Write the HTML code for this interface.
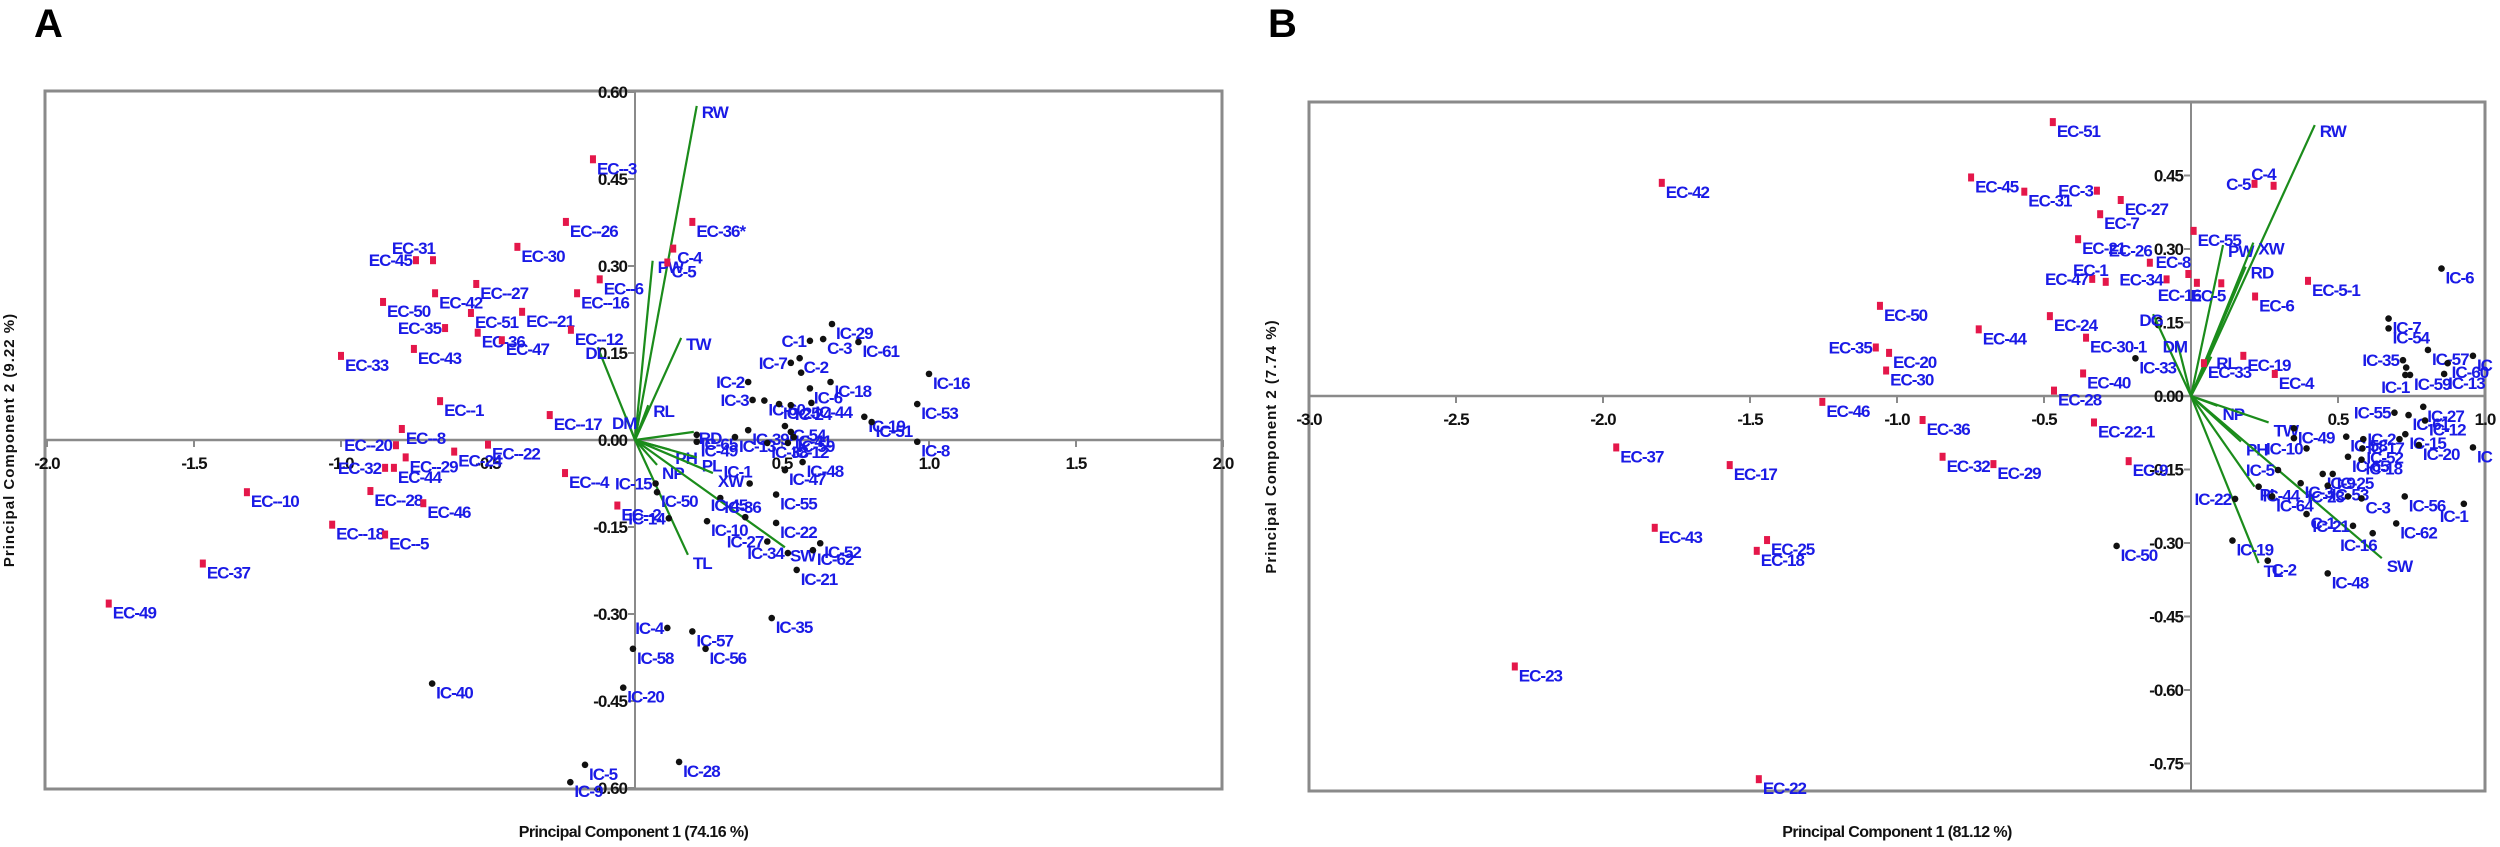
<!DOCTYPE html>
<html><head><meta charset="utf-8">
<style>
html,body{margin:0;padding:0;background:#fff;}
svg{display:block;}
.lbl{font-family:"Liberation Sans Narrow","Liberation Sans",sans-serif;font-weight:bold;font-size:17px;fill:#1a1ae6;letter-spacing:-1px;}
.tick{font-family:"Liberation Sans Narrow","Liberation Sans",sans-serif;font-weight:bold;font-size:17px;fill:#111;letter-spacing:-1px;}
.ttl{font-family:"Liberation Sans Narrow","Liberation Sans",sans-serif;font-weight:bold;font-size:16px;fill:#111;letter-spacing:-0.6px;}
.ytl{font-family:"Liberation Sans",sans-serif;font-weight:bold;font-size:15px;fill:#111;letter-spacing:1px;}
.pl{font-family:"Liberation Sans",sans-serif;font-weight:bold;font-size:40px;fill:#000;}
</style></head>
<body>
<svg id="chart" width="2500" height="847" viewBox="0 0 2500 847" xmlns="http://www.w3.org/2000/svg">
<text class="pl" x="34" y="37">A</text>
<text class="pl" x="1268" y="37">B</text>
</svg>
<script>
// ---------- Panel A data ----------
const aNames=["EC--3","EC--26","EC-30","EC--27","EC-42","EC-50","EC-51","EC--21","EC--16","EC--6","EC--12","EC-35","EC-36","EC-47","EC-43","EC-33","EC-31","EC-45","EC--1","EC--17","EC--8","EC--20","EC--29","EC--22","EC-24","EC-32","EC-44","EC--4","EC--10","EC--28","EC-46","EC--2","EC--18","EC--5","EC-37","EC-49","EC-36*","C-4","C-5",
"IC-29","C-1","C-3","IC-61","IC-7","C-2","","IC-16","IC-18","IC-6","IC-2","IC-3","IC-60","IC-25","IC-24","IC-44","IC-19","IC-51","IC-53","IC-8","IC-54","IC-41","IC-65","IC-49","IC-13","IC-39","IC-38","IC-12","IC-59","IC-48","IC-47","IC-1","IC-15","IC-50","IC-36","IC-55","IC-14","IC-45","IC-10","IC-22","IC-27","IC-52","IC-62","IC-34","IC-21","IC-35","IC-4","IC-57","IC-58","IC-56","IC-40","IC-20","IC-5","IC-28","IC-9"];
const aX=[-0.143,-0.235,-0.40,-0.54,-0.68,-0.857,-0.558,-0.384,-0.197,-0.12,-0.218,-0.646,-0.535,-0.453,-0.752,-1.0,-0.687,-0.745,-0.663,-0.29,-0.793,-0.813,-0.78,-0.50,-0.615,-0.85,-0.82,-0.238,-1.32,-0.90,-0.72,-0.06,-1.03,-0.85,-1.47,-1.79,0.195,0.13,0.11,
0.67,0.595,0.64,0.76,0.53,0.56,0.565,1.0,0.665,0.595,0.385,0.40,0.44,0.49,0.53,0.60,0.78,0.805,0.96,0.96,0.51,0.53,0.21,0.21,0.34,0.385,0.45,0.52,0.54,0.57,0.51,0.39,0.07,0.075,0.29,0.48,0.115,0.375,0.245,0.48,0.45,0.63,0.605,0.52,0.55,0.465,0.11,0.195,-0.007,0.24,-0.69,-0.04,-0.17,0.15,-0.22];
const aY=[0.484,0.376,0.333,0.269,0.253,0.238,0.219,0.221,0.253,0.277,0.19,0.193,0.185,0.172,0.157,0.145,0.31,0.31,0.067,0.043,0.019,-0.009,-0.03,-0.008,-0.02,-0.048,-0.048,-0.057,-0.09,-0.088,-0.109,-0.113,-0.146,-0.163,-0.213,-0.282,0.376,0.33,0.306,
0.20,0.171,0.174,0.169,0.133,0.141,0.116,0.114,0.10,0.089,0.10,0.069,0.068,0.062,0.06,0.064,0.04,0.031,0.062,-0.003,0.024,0.014,0.009,-0.003,0.005,0.017,-0.005,-0.005,0.005,-0.038,-0.052,-0.075,-0.075,-0.09,-0.10,-0.094,-0.135,-0.133,-0.14,-0.143,-0.175,-0.178,-0.19,-0.195,-0.224,-0.307,-0.324,-0.33,-0.36,-0.36,-0.42,-0.427,-0.56,-0.555,-0.59];
const aType="EEEEEEEEEEEEEEEEEEEEEEEEEEEEEEEEEEEEEEEIIIIIIIIIIIIIIIIIIIIIIIIIIIIIIIIIIIIIIIIIIIIIIIIIIIIIIIIII";
const aLeftLabels=["EC-45","EC-35","EC--20","EC-32","IC-7","C-1","IC-2","IC-3","IC-15","IC-4","IC-34","IC-27","IC-14"];
const aAboveLabels=["EC-31","IC-1","IC-45"];
const aVecNames=["RW","PW","TW","DL","RL","DM","RD","PH","PL","NP","XW","SW","TL"];
const aVecX=[0.21,0.06,0.157,-0.127,0.045,-0.03,0.2,0.12,0.21,0.075,0.265,0.51,0.18];
const aVecY=[0.576,0.309,0.176,0.16,0.06,0.04,0.014,-0.017,-0.03,-0.043,-0.057,-0.185,-0.198];
const aXTicks=[-2.0,-1.5,-1.0,-0.5,0.5,1.0,1.5,2.0];
const aXTickLabels=["-2.0","-1.5","-1.0","-0.5","0.5","1.0","1.5","2.0"];
const aYTicks=[0.60,0.45,0.30,0.15,0.00,-0.15,-0.30,-0.45,-0.60];
const aYTickLabels=["0.60","0.45","0.30","0.15","0.00","-0.15","-0.30","-0.45","-0.60"];

// ---------- Panel B data ----------
const bNames=["EC-51","EC-42","EC-45","EC-31","EC-3","EC-27","EC-7","EC-21","EC-26","EC-8","EC-47","EC-1","EC-34","EC-16","EC-5","EC-55","EC-6","EC-5-1","EC-19","EC-33","EC-4","EC-9","EC-50","EC-24","EC-44","EC-30-1","EC-35","EC-20","EC-30","EC-40","EC-28","EC-46","EC-36","EC-22-1","EC-37","EC-17","EC-32","EC-29","EC-43","EC-25","EC-18","EC-23","EC-22","C-5","C-4",
"IC-33","IC-50","IC-6","IC-7","IC-54","IC-57","IC","IC-60","IC-35","","IC-1","IC-59","IC-13","IC-27","IC-55","IC-61","IC-12","IC-2","IC-15","IC-20","IC","IC-49","","IC-58","IC-17","IC-10","IC-52","IC-65","IC-18","IC-5","IC-3","IC-9","IC-25","IC-53","IC-44","IC-64","IC-22","IC-23","C-3","IC-56","IC-1","C-1","IC-21","IC-16","IC-62","IC-19","C-2","IC-48"];
const bX=[-0.47,-1.80,-0.748,-0.567,-0.32,-0.239,-0.309,-0.384,-0.14,-0.009,-0.336,-0.29,-0.083,0.02,0.103,0.009,0.218,0.398,0.178,0.044,0.285,-0.212,-1.058,-0.48,-0.722,-0.357,-1.072,-1.027,-1.037,-0.367,-0.466,-1.254,-0.913,-0.33,-1.955,-1.569,-0.845,-0.672,-1.824,-1.442,-1.477,-2.30,-1.47,0.216,0.281,
-0.189,-0.253,0.852,0.672,0.672,0.806,0.959,0.873,0.721,0.732,0.729,0.745,0.861,0.79,0.692,0.74,0.796,0.709,0.729,0.775,0.959,0.35,0.35,0.528,0.586,0.393,0.583,0.534,0.58,0.296,0.373,0.448,0.482,0.465,0.23,0.276,0.15,0.534,0.58,0.727,0.928,0.393,0.551,0.618,0.698,0.141,0.261,0.465];
const bY=[0.559,0.435,0.446,0.417,0.419,0.40,0.371,0.32,0.272,0.249,0.239,0.233,0.238,0.231,0.23,0.337,0.203,0.235,0.082,0.067,0.045,-0.133,0.184,0.163,0.136,0.119,0.099,0.088,0.052,0.046,0.011,-0.012,-0.049,-0.054,-0.105,-0.141,-0.124,-0.139,-0.269,-0.294,-0.316,-0.552,-0.782,0.433,0.429,
0.077,-0.306,0.26,0.158,0.138,0.094,0.082,0.067,0.073,0.058,0.043,0.043,0.045,-0.022,-0.034,-0.039,-0.05,-0.088,-0.078,-0.1,-0.105,-0.066,-0.086,-0.083,-0.088,-0.107,-0.107,-0.124,-0.13,-0.151,-0.178,-0.159,-0.159,-0.183,-0.185,-0.205,-0.21,-0.205,-0.209,-0.205,-0.22,-0.241,-0.265,-0.28,-0.26,-0.295,-0.336,-0.362];
const bType="EEEEEEEEEEEEEEEEEEEEEEEEEEEEEEEEEEEEEEEEEEEEEIIIIIIIIIIIIIIIIIIIIIIIIIIIIIIIIIIIIIIIIIIIIIIIIIIII";
const bLeftLabels=["EC-35","EC-3","EC-47","EC-34","C-5","IC-35","IC-55","IC-10","IC-5","IC-22","IC-2","IC-23","IC-21"];
const bAboveLabels=["EC-1","EC-8","EC-26","C-4"];
const bBelowLeftLabels=["EC-16","EC-5","IC-16","IC-1"];
const bVecNames=["RW","PW","XW","RD","DG","DM","RL","NP","TW","PH","PL","TL","SW"];
const bVecX=[0.421,0.109,0.212,0.186,-0.129,-0.048,0.069,0.09,0.264,0.17,0.216,0.23,0.649];
const bVecY=[0.553,0.308,0.313,0.264,0.167,0.113,0.08,-0.02,-0.054,-0.093,-0.185,-0.341,-0.331];
const bXTicks=[-3.0,-2.5,-2.0,-1.5,-1.0,-0.5,0.5,1.0];
const bXTickLabels=["-3.0","-2.5","-2.0","-1.5","-1.0","-0.5","0.5","1.0"];
const bYTicks=[0.45,0.30,0.15,0.00,-0.15,-0.30,-0.45,-0.60,-0.75];
const bYTickLabels=["0.45","0.30","0.15","0.00","-0.15","-0.30","-0.45","-0.60","-0.75"];

const NS="http://www.w3.org/2000/svg";
const svg=document.getElementById('chart');
function mk(tag,attrs,parent){const e=document.createElementNS(NS,tag);for(const k in attrs)e.setAttribute(k,attrs[k]);(parent||svg).appendChild(e);return e;}

function drawPanel(P){
  const g=mk('g',{});
  
  
  const sx=v=>P.x0+v*P.ux, sy=v=>P.y0-v*P.uy;
  const fr=mk('rect',{x:P.left,y:P.top,width:P.right-P.left,height:P.bottom-P.top,fill:'none',stroke:'#8a8a8a','stroke-width':3},g);
  
  
  const xa=mk('line',{x1:P.left,x2:P.right,y1:sy(0),y2:sy(0),stroke:'#8a8a8a','stroke-width':2.5},g);
  
  
  const ya=mk('line',{x1:sx(0),x2:sx(0),y1:P.top,y2:P.bottom,stroke:'#8a8a8a','stroke-width':2},g);
  
  
  P.xt.forEach((v,i)=>{
    mk('line',{x1:sx(v),x2:sx(v),y1:sy(0),y2:sy(0)+7,stroke:'#8a8a8a','stroke-width':2},g);
    const t=mk('text',{class:'tick',x:sx(v),y:sy(0)+29,'text-anchor':'middle'},g);
    t.textContent=P.xtl[i];
    
    
  });
  P.yt.forEach((v,i)=>{
    mk('line',{x1:sx(0)-7,x2:sx(0),y1:sy(v),y2:sy(v),stroke:'#8a8a8a','stroke-width':2},g);
    const t=mk('text',{class:'tick',x:sx(0)-8,y:sy(v)+6,'text-anchor':'end'},g);
    t.textContent=P.ytl[i];
    
    
  });
  P.vn.forEach((n,i)=>{
    const l=mk('line',{x1:sx(0),y1:sy(0),x2:sx(P.vx[i]),y2:sy(P.vy[i]),stroke:'#1b8c1b','stroke-width':2.2},g);
    
    
    const t=mk('text',{class:'lbl',x:sx(P.vx[i])+(P.vx[i]<0?-2:5),y:sy(P.vy[i])+(P.vy[i]<0?14:12),'text-anchor':P.vx[i]<0?'middle':'start'},g);
    t.textContent=n;
    
    
  });
  P.names.forEach((n,i)=>{
    const px=sx(P.x[i]), py=sy(P.y[i]);
    let m;
    if(P.type[i]==='E'){m=mk('rect',{x:px-3,y:py-4,width:6,height:8,fill:'#e4174a'},g);}
    else{m=mk('circle',{cx:px,cy:py,r:3.3,fill:'#111'},g);}
    
    
    if(n){
      let x=px+4,y=py+15,anc='start';
      if(P.left.indexOf?false:false){}
      if(P.lefts.includes(n)){x=px-4;y=py+6;anc='end';}
      else if(P.aboves.includes(n)){x=px+2;y=py-6;anc='end';}
      else if(P.belowLefts.includes(n)){x=px+4;y=py+18;anc='end';}
      const t=mk('text',{class:'lbl',x:x,y:y,'text-anchor':anc},g);
      t.textContent=n;
      
      
    }
  });
  const xt=mk('text',{class:'ttl',x:(P.left+P.right)/2,y:P.xTitleY,'text-anchor':'middle'},g);
  xt.textContent=P.xTitle;
  
  
  const yt=mk('text',{class:'ytl',x:0,y:0,'text-anchor':'middle',transform:`translate(${P.yTitleX},${(P.top+P.bottom)/2}) rotate(-90)`},g);
  yt.textContent=P.yTitle;
  
  
}

drawPanel({id:'panel-a',left:45,right:1222,top:91,bottom:789,x0:635,ux:294,y0:440,uy:580,
  xt:aXTicks,xtl:aXTickLabels,yt:aYTicks,ytl:aYTickLabels,
  vn:aVecNames,vx:aVecX,vy:aVecY,names:aNames,x:aX,y:aY,type:aType,
  lefts:aLeftLabels,aboves:aAboveLabels,belowLefts:[],
  xTitle:'Principal Component 1 (74.16 %)',xTitleY:837,yTitle:'Principal Component 2 (9.22 %)',yTitleX:14});
drawPanel({id:'panel-b',left:1309,right:2485,top:102,bottom:791,x0:2191,ux:294,y0:396,uy:490,
  xt:bXTicks,xtl:bXTickLabels,yt:bYTicks,ytl:bYTickLabels,
  vn:bVecNames,vx:bVecX,vy:bVecY,names:bNames,x:bX,y:bY,type:bType,
  lefts:bLeftLabels,aboves:bAboveLabels,belowLefts:bBelowLeftLabels,
  xTitle:'Principal Component 1 (81.12 %)',xTitleY:837,yTitle:'Principal Component 2 (7.74 %)',yTitleX:1276});
</script>
</body></html>
